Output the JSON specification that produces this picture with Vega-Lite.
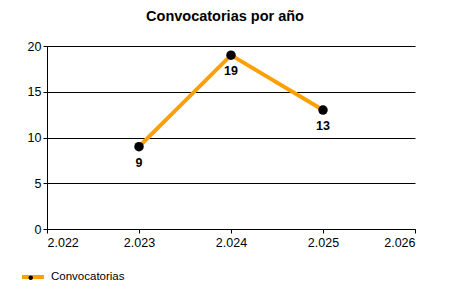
{
  "$schema": "https://vega.github.io/schema/vega-lite/v6.json",
  "autosize": "none",
  "width": 368,
  "height": 183,
  "padding": {"left": 47, "top": 46, "right": 35, "bottom": 71},
  "background": "white",
  "title": {"text": "Convocatorias por año", "font": "Liberation Sans", "fontSize": 14.5, "fontWeight": "bold", "color": "black", "anchor": "middle", "frame": "group", "dx": -6, "offset": 16},
  "config": {"view": {"stroke": null}, "font": "Liberation Sans"},
  "data": {"values": [
    {"year": 2023, "value": 9},
    {"year": 2024, "value": 19},
    {"year": 2025, "value": 13}
  ]},
  "encoding": {
    "x": {"field": "year", "type": "quantitative", "scale": {"domain": [2022, 2026], "nice": false, "zero": false},
      "axis": {"title": null, "values": [2022, 2023, 2024, 2025, 2026], "grid": false, "domainColor": "black", "tickColor": "black", "tickSize": 4, "labelColor": "black", "labelFont": "Liberation Sans", "labelFontSize": 12.5, "labelPadding": 3,
        "labelExpr": "slice(toString(datum.value),0,1) + '.' + slice(toString(datum.value),1)"}},
    "y": {"field": "value", "type": "quantitative", "scale": {"domain": [0, 20], "nice": false},
      "axis": {"title": null, "values": [0, 5, 10, 15, 20], "grid": true, "gridColor": "black", "gridOpacity": 1, "domainColor": "black", "tickColor": "black", "tickSize": 4, "labelColor": "black", "labelFont": "Liberation Sans", "labelFontSize": 12.5, "labelPadding": 2}}
  },
  "layer": [
    {"mark": {"type": "line", "strokeWidth": 4},
      "encoding": {"color": {"datum": "Convocatorias", "scale": {"range": ["#FFA000"]},
        "legend": {"title": null, "orient": "none", "legendX": -27, "legendY": 218, "symbolType": "stroke", "symbolStrokeWidth": 4, "symbolSize": 484, "labelFont": "Liberation Sans", "labelFontSize": 11.5, "labelColor": "black", "labelOffset": 5}}}},
    {"mark": {"type": "point", "filled": true, "opacity": 1, "size": 90},
      "encoding": {"fill": {"datum": "dot", "scale": {"range": ["black"]},
        "legend": {"title": null, "orient": "none", "legendX": -22, "legendY": 226, "symbolType": "circle", "symbolSize": 20, "symbolOpacity": 1, "symbolStrokeWidth": 0, "labelExpr": "''", "labelFontSize": 11.5}}}},
    {"mark": {"type": "text", "fontWeight": "bold", "fontSize": 12.5, "baseline": "top", "dy": 10, "color": "black", "font": "Liberation Sans"},
      "encoding": {"text": {"field": "value", "type": "quantitative"}}}
  ]
}
